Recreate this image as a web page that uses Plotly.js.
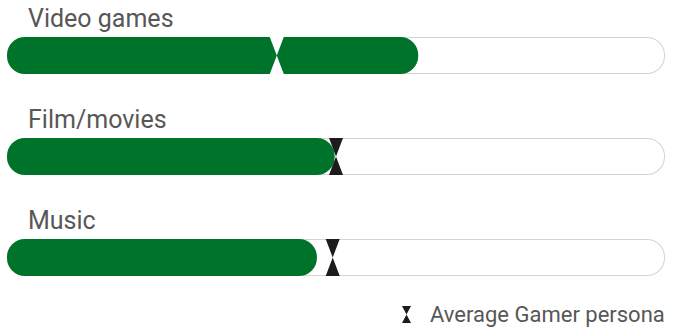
<!DOCTYPE html>
<html>
<head>
<meta charset="utf-8">
<script src="https://cdn.plot.ly/plotly-3.0.1.min.js"></script>
<style>html,body{margin:0;padding:0;background:#fff}#chart{width:682px;height:329px}</style>
</head>
<body>
<div id="chart"></div>
<script>
// ---- data ----
const categories = ['Video games', 'Film/movies', 'Music'];
const shareValues = [62.5, 49.8, 47.1];     // green fill (% of scale)
const gamerAverage = [41.0, 50.0, 49.5];    // Average Gamer persona marker
const scaleMax = 100;
const legendLabel = 'Average Gamer persona';

// ---- styling ----
const GREEN = '#00732a';
const TRACK_BORDER = '#d4d4d4';
const DARK = '#1c1c1c';
const TEXT = '#575757';
const rowPx = 101, barPx = 37, plotWpx = 658;
const barW = barPx / rowPx;
const innerW = (barPx - 2) / rowPx;
const inset = 1 * scaleMax / plotWpx;
const halfMarker = 7 * scaleMax / plotWpx;
const pos = categories.map((c, i) => i);

function bar(xs, bases, width, color) {
  return {
    type: 'bar', orientation: 'h', y: pos, x: xs, base: bases, width: width,
    marker: {color: color, line: {width: 0}, cornerradius: '50%'},
    hoverinfo: 'skip', showlegend: false
  };
}

const traces = [
  // track border (gray) and inside (white)
  bar(pos.map(() => scaleMax), pos.map(() => 0), barW, TRACK_BORDER),
  bar(pos.map(() => scaleMax - 2 * inset), pos.map(() => inset), innerW, '#ffffff'),
  // green fill
  bar(shareValues, pos.map(() => 0), barW, GREEN)
];

// hourglass markers
categories.forEach((c, i) => {
  const a = gamerAverage[i];
  const top = i - barW / 2, bot = i + barW / 2;
  const col = a < shareValues[i] ? '#ffffff' : DARK;
  traces.push({
    type: 'scatter', mode: 'lines', fill: 'toself', fillcolor: col,
    x: [a - halfMarker, a + halfMarker, a, a + halfMarker, a - halfMarker, a, a - halfMarker],
    y: [top, top, i, bot, bot, i, top],
    line: {width: 0, color: col}, hoverinfo: 'skip', showlegend: false
  });
});

const annotations = categories.map((c, i) => ({
  text: c, xref: 'paper', x: 0, xshift: 20, xanchor: 'left',
  yref: 'y', y: i, yshift: 37.5, yanchor: 'middle', showarrow: false,
  borderpad: 0, font: {family: 'Roboto', size: 25, color: TEXT}
}));
annotations.push({
  text: legendLabel, xref: 'paper', x: 1, xshift: 1, xanchor: 'right',
  yref: 'paper', y: 0, yshift: -6.5, yanchor: 'middle', showarrow: false,
  borderpad: 0, font: {family: 'Roboto', size: 22, color: TEXT}
});

const layout = {
  width: 682, height: 329,
  margin: {l: 7, r: 17, t: 5, b: 21, pad: 0},
  paper_bgcolor: '#ffffff', plot_bgcolor: '#ffffff',
  barmode: 'overlay', showlegend: false,
  xaxis: {range: [0, scaleMax], visible: false, fixedrange: true},
  yaxis: {range: [categories.length - 0.5, -0.5], visible: false, fixedrange: true},
  annotations: annotations,
  shapes: [{
    type: 'path', xref: 'paper', yref: 'paper', xsizemode: 'pixel', ysizemode: 'pixel',
    xanchor: 1, yanchor: 0,
    path: 'M-263,2 L-254,2 L-258.5,-6.5 L-254,-15 L-263,-15 L-258.5,-6.5 Z',
    fillcolor: DARK, line: {width: 0}
  }]
};

Plotly.newPlot('chart', traces, layout, {staticPlot: true, displayModeBar: false});
</script>
</body>
</html>
